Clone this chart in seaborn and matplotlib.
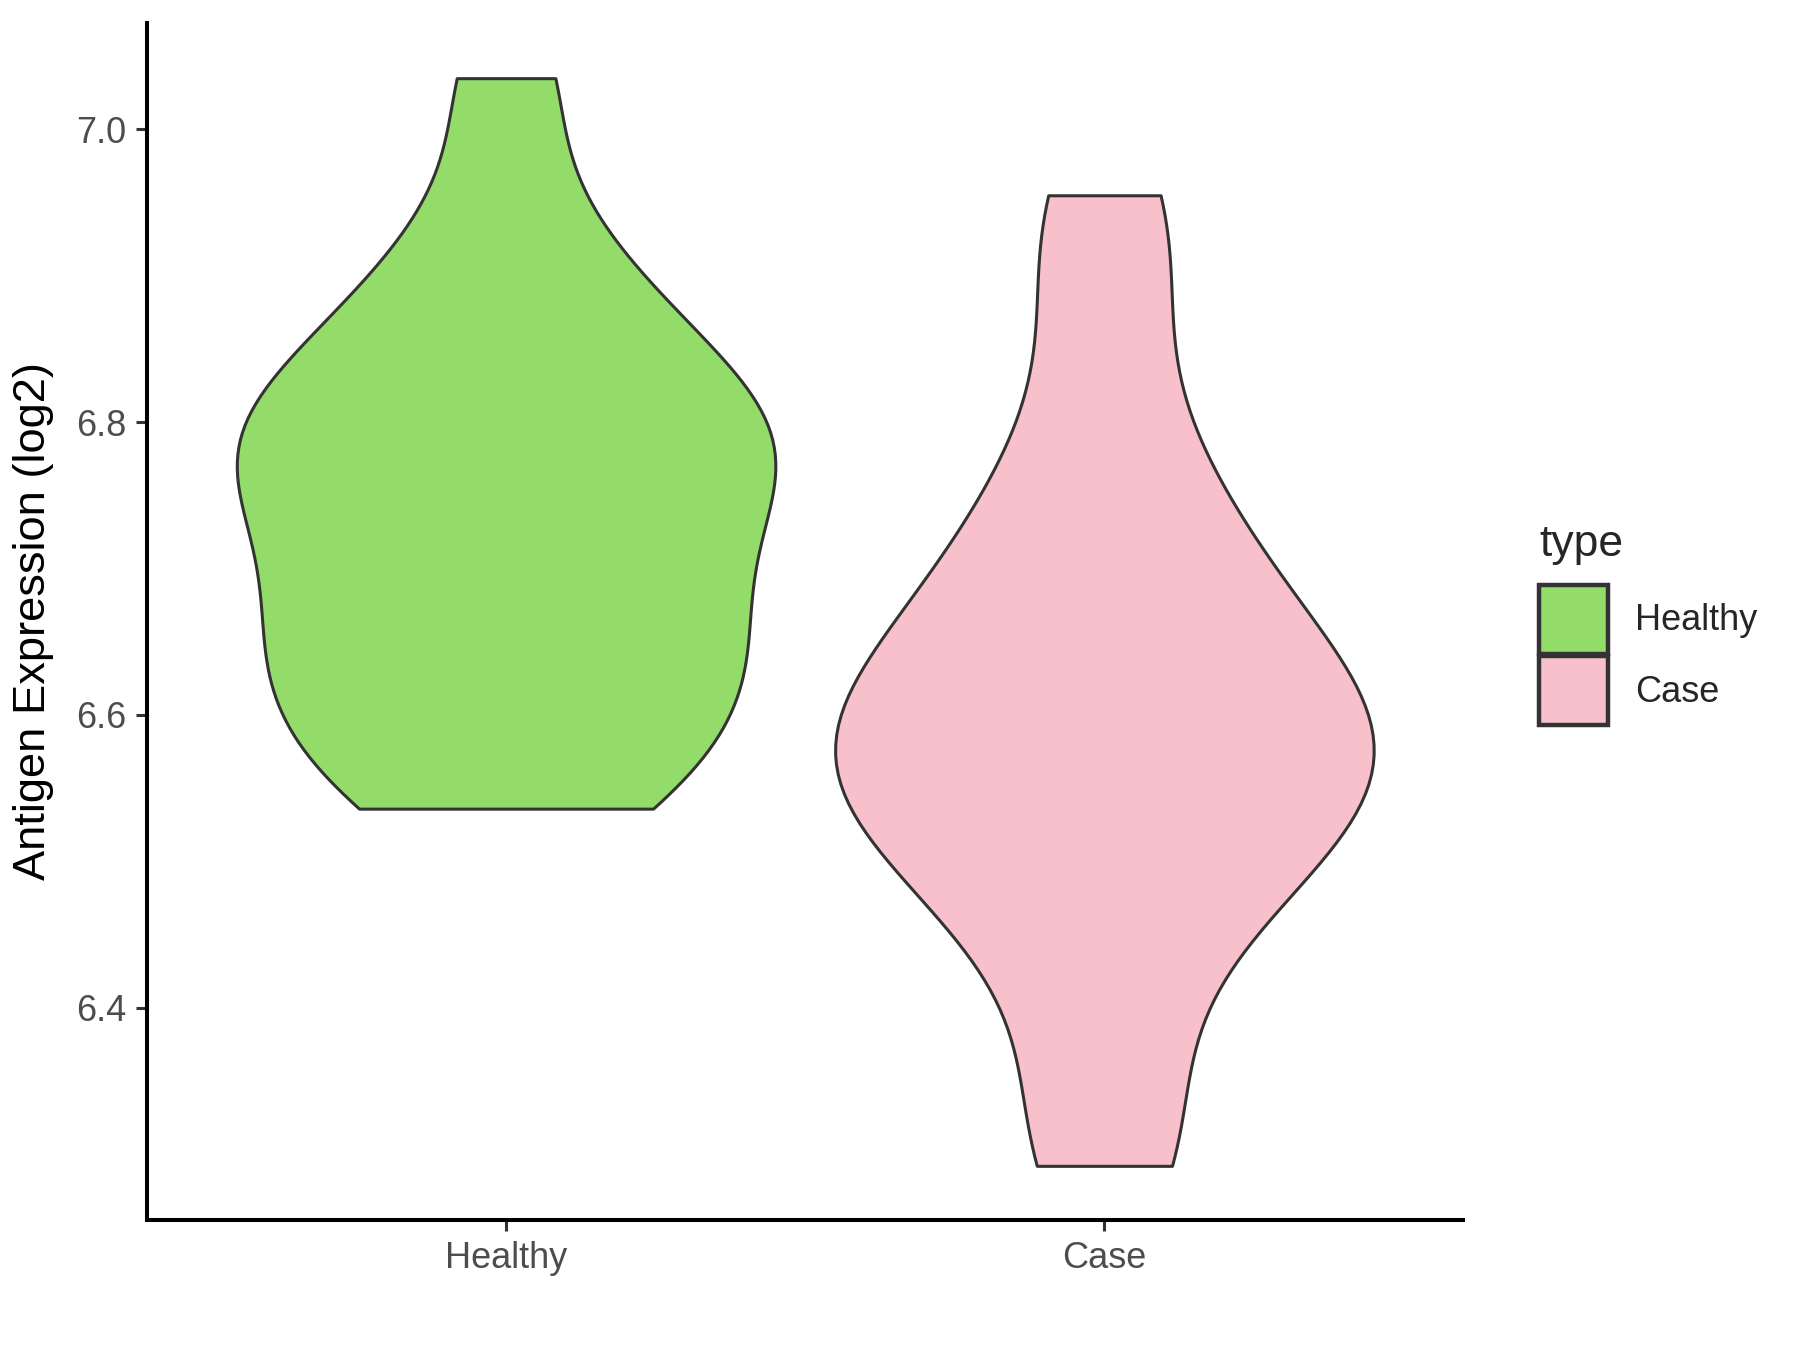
import numpy as np
import pandas as pd
import seaborn as sns
import matplotlib.pyplot as plt
from matplotlib.patches import Patch

# expression values (log2)
groups = ['Healthy', 'Case']
healthy_vals = [6.536, 6.55, 6.58, 6.61, 6.63, 6.65, 6.67, 6.70, 6.73, 6.75, 6.77, 6.79,
                6.80, 6.82, 6.85, 6.88, 6.93, 7.035]
case_vals = [6.292, 6.32, 6.42, 6.47, 6.50, 6.52, 6.54, 6.56, 6.57, 6.58, 6.60, 6.62,
             6.64, 6.67, 6.70, 6.74, 6.79, 6.90, 6.955]
colors = ['#93DC6A', '#F7C0CB']
y_ticks = [6.4, 6.6, 6.8, 7.0]

df = pd.DataFrame({
    'type': ['Healthy'] * len(healthy_vals) + ['Case'] * len(case_vals),
    'value': healthy_vals + case_vals,
})

sns.set_style('white')
plt.rcParams['font.family'] = ['Liberation Sans', 'DejaVu Sans']

fig = plt.figure(figsize=(9, 6.75), dpi=200)
ax = fig.add_axes([0.0817, 0.0963, 0.7313, 0.887])

sns.violinplot(data=df, x='type', y='value', hue='type', order=groups, hue_order=groups,
               palette=colors, cut=0, inner=None, width=0.9, linewidth=1.1,
               linecolor='#333333', bw_adjust=0.75, saturation=1, legend=False, ax=ax)

ax.set_xlim(-0.6, 1.6)
ax.set_ylim(6.255, 7.073)
ax.set_yticks(y_ticks)
ax.set_yticklabels(['%.1f' % t for t in y_ticks])
ax.set_xlabel('')
ax.set_ylabel('Antigen Expression (log2)', fontsize=16.3, color='black', labelpad=8)
ax.tick_params(axis='both', labelsize=13, colors='#4D4D4D', length=4, width=1.1,
               direction='out', left=True, bottom=True)
ax.tick_params(axis='both', color='#333333')
for side in ['top', 'right']:
    ax.spines[side].set_visible(False)
for side in ['left', 'bottom']:
    ax.spines[side].set_color('black')
    ax.spines[side].set_linewidth(1.45)

handles = [Patch(facecolor=c, edgecolor='#333333', linewidth=1.6, label=g) for c, g in zip(colors, groups)]
leg = fig.legend(handles=handles, title='type', loc='upper left', bbox_to_anchor=(0.845, 0.625),
                 frameon=False, fontsize=13, title_fontsize=16, handlelength=1.92, handleheight=2.58,
                 labelspacing=0.05, handletextpad=0.75, borderpad=0)
leg._legend_box.align = 'left'
leg._legend_box.sep = 7

fig.savefig('out.png', dpi=200)
